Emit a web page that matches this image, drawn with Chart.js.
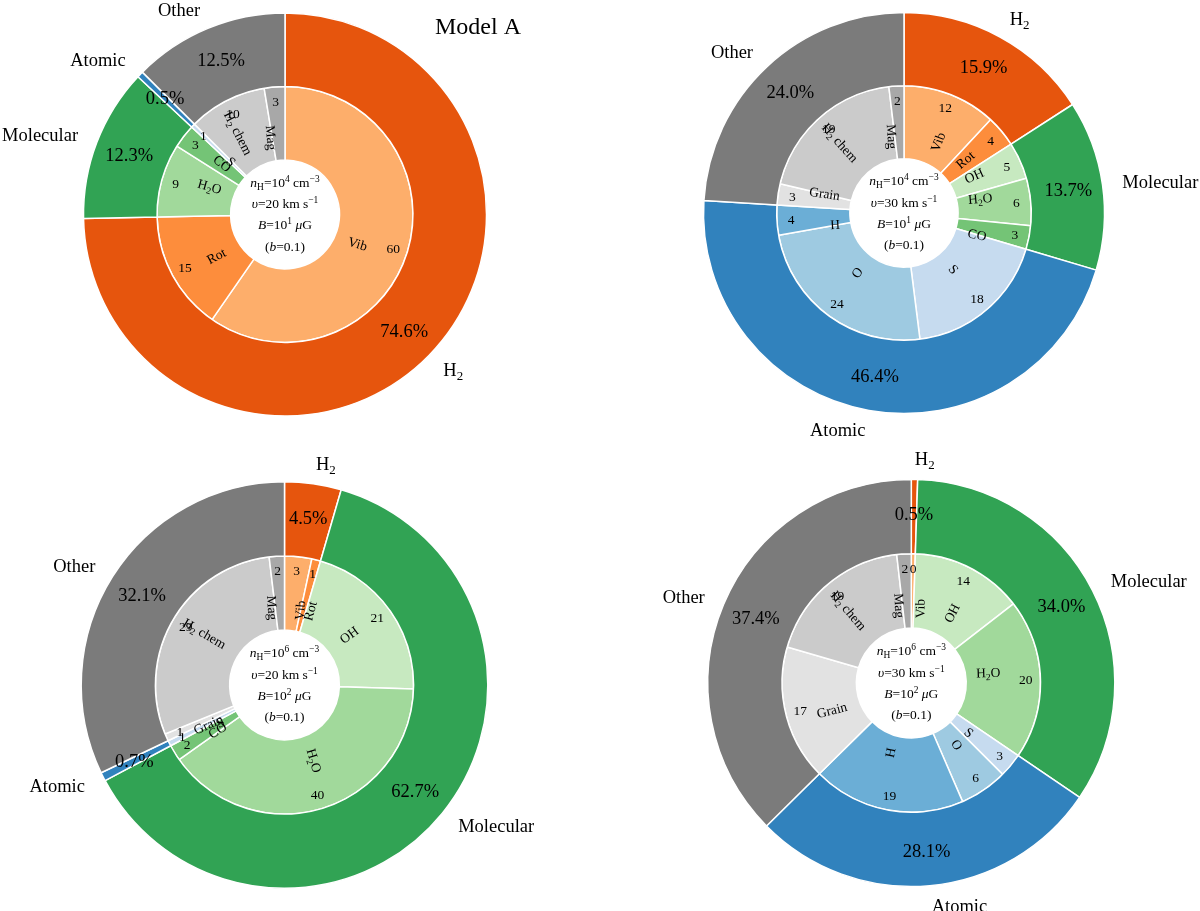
<!DOCTYPE html>
<html>
<head>
<meta charset="utf-8">
<script src="https://cdn.jsdelivr.net/npm/chart.js@4.4.1/dist/chart.umd.min.js"></script>
<style>
    html, body { margin: 0; padding: 0; background: #fff; }
    #wrap { position: relative; width: 1200px; height: 911px; overflow: hidden; }
    #wrap canvas { position: absolute; left: 0; top: 0; }
</style>
</head>
<body>
<div id="wrap">
    <canvas id="panelA" width="1200" height="911"></canvas>
    <canvas id="panelB" width="1200" height="911"></canvas>
    <canvas id="panelC" width="1200" height="911"></canvas>
    <canvas id="panelD" width="1200" height="911"></canvas>
</div>
<script>
// Outer ring: groups, same order in every panel (clockwise from 12 o'clock)
const outerNames = ['H_2', 'Molecular', 'Atomic', 'Other'];

// Panel A: nH=1e4, v=20, B=1e1
const outerA = [74.6, 12.3, 0.5, 12.5];
const innerNamesA = ['Vib', 'Rot', 'H_2O', 'CO', 'S', 'H_2 chem', 'Mag'];
const innerA = [59.6, 15.0, 9.3, 3.0, 0.5, 9.9, 2.6];
const innerNumsA = [60, 15, 9, 3, 1, 10, 3];
const centerA = ['$n$_H=10^{4} cm^{−3}', '$υ$=20 km s^{−1}', '$B$=10^{1} $μ$G', '($b$=0.1)'];

// Panel B: nH=1e4, v=30, B=1e1
const outerB = [15.9, 13.7, 46.4, 24.0];
const innerNamesB = ['Vib', 'Rot', 'OH', 'H_2O', 'CO', 'S', 'O', 'H', 'Grain', 'H_2 chem', 'Mag'];
const innerB = [11.9, 4.0, 4.7, 6.0, 3.0, 18.4, 24.2, 3.8, 2.7, 19.4, 1.9];
const innerNumsB = [12, 4, 5, 6, 3, 18, 24, 4, 3, 19, 2];
const centerB = ['$n$_H=10^{4} cm^{−3}', '$υ$=30 km s^{−1}', '$B$=10^{1} $μ$G', '($b$=0.1)'];

// Panel C: nH=1e6, v=20, B=1e2
const outerC = [4.5, 62.7, 0.7, 32.1];
const innerNamesC = ['Vib', 'Rot', 'OH', 'H_2O', 'CO', 'S', 'Grain', 'H_2 chem', 'Mag'];
const innerC = [3.4, 1.1, 21.0, 39.7, 2.0, 0.7, 0.9, 29.3, 1.9];
const innerNumsC = [3, 1, 21, 40, 2, 1, 1, 29, 2];
const centerC = ['$n$_H=10^{6} cm^{−3}', '$υ$=20 km s^{−1}', '$B$=10^{2} $μ$G', '($b$=0.1)'];

// Panel D: nH=1e6, v=30, B=1e2
const outerD = [0.5, 34.0, 28.1, 37.4];
const innerNamesD = ['Vib', 'OH', 'H_2O', 'S', 'O', 'H', 'Grain', 'H_2 chem', 'Mag'];
const innerD = [0.5, 14.0, 20.0, 3.0, 6.0, 19.1, 16.9, 18.7, 1.8];
const innerNumsD = [0, 14, 20, 3, 6, 19, 17, 19, 2];
const centerD = ['$n$_H=10^{6} cm^{−3}', '$υ$=30 km s^{−1}', '$B$=10^{2} $μ$G', '($b$=0.1)'];

const outerColors = ['#e6550d', '#31a354', '#3182bd', '#7b7b7b'];
const innerColors = {
    'Vib': '#fdae6b', 'Rot': '#fd8d3c',
    'OH': '#c7e9c0', 'H_2O': '#a1d99b', 'CO': '#74c476',
    'S': '#c6dbef', 'O': '#9ecae1', 'H': '#6baed6',
    'Grain': '#e2e2e2', 'H_2 chem': '#cbcbcb', 'Mag': '#a8a8a8'
};

const W = 1200, H = 911;
const FONT = '"Liberation Serif", "Times New Roman", serif';

// tiny markup: $..$ italic, _x subscript (one char), ^{..} superscript
function richSegs(str) {
    const segs = [];
    let italic = false, buf = '';
    const push = (t, mode) => { if (t) segs.push({ t, mode, italic }); };
    for (let i = 0; i < str.length; i++) {
        const c = str[i];
        if (c === '$') { push(buf, 'n'); buf = ''; italic = !italic; }
        else if (c === '_') { push(buf, 'n'); buf = ''; push(str[i + 1], 'sub'); i++; }
        else if (c === '^') {
            push(buf, 'n'); buf = '';
            const j = str.indexOf('}', i);
            push(str.slice(i + 2, j), 'sup');
            i = j;
        }
        else buf += c;
    }
    push(buf, 'n');
    return segs;
}

function segFont(seg, size) {
    const fs = seg.mode === 'n' ? size : size * 0.7;
    return (seg.italic ? 'italic ' : '') + fs + 'px ' + FONT;
}

function richWidth(ctx, str, size) {
    let w = 0;
    richSegs(str).forEach(seg => {
        ctx.font = segFont(seg, size);
        w += ctx.measureText(seg.t).width;
    });
    return w;
}

function drawRich(ctx, str, x, y, size, align) {
    const w = richWidth(ctx, str, size);
    let px = align === 'left' ? x : (align === 'right' ? x - w : x - w / 2);
    const base = y + size * 0.32;
    ctx.textAlign = 'left';
    ctx.textBaseline = 'alphabetic';
    richSegs(str).forEach(seg => {
        ctx.font = segFont(seg, size);
        const dy = seg.mode === 'sub' ? size * 0.22 : (seg.mode === 'sup' ? -size * 0.38 : 0);
        ctx.fillText(seg.t, px, base + dy);
        px += ctx.measureText(seg.t).width;
    });
}

// radial label, aligned like matplotlib's rotatelabels
function drawRadial(ctx, str, ax, ay, size, m) {
    const w = richWidth(ctx, str, size), h = size * 1.15;
    const c = Math.cos(m), s = Math.sin(m);
    let rot = -m;
    if (c <= 0) rot += Math.PI;
    const bw = Math.abs(w * Math.cos(rot)) + Math.abs(h * Math.sin(rot));
    const bh = Math.abs(w * Math.sin(rot)) + Math.abs(h * Math.cos(rot));
    const cx = ax + (c > 0 ? bw / 2 : -bw / 2);
    const cy = ay + (s > 0 ? bh / 2 : -bh / 2);
    ctx.save();
    ctx.translate(cx, cy);
    ctx.rotate(-rot);
    drawRich(ctx, str, 0, 0, size, 'center');
    ctx.restore();
}

const ringLabels = {
    id: 'ringLabels',
    afterDatasetsDraw(chart, args, opts) {
        const ctx = chart.ctx;
        ctx.save();
        ctx.fillStyle = '#000';

        const outer = chart.getDatasetMeta(0).data;
        const outerVals = chart.data.datasets[0].data;
        outer.forEach((arc, i) => {
            const m = (arc.startAngle + arc.endAngle) / 2;
            const c = Math.cos(m), s = Math.sin(m);
            const rp = arc.outerRadius * 0.828;
            drawRich(ctx, outerVals[i].toFixed(1) + '%', arc.x + c * rp, arc.y + s * rp, 18.5, 'center');
            const rn = arc.outerRadius * 1.1;
            drawRich(ctx, outerNames[i], arc.x + c * rn, arc.y + s * rn, 18.5, c > 0 ? 'left' : 'right');
        });

        const inner = chart.getDatasetMeta(1).data;
        inner.forEach((arc, i) => {
            const m = (arc.startAngle + arc.endAngle) / 2;
            const c = Math.cos(m), s = Math.sin(m);
            const rn = arc.outerRadius * 0.887;
            drawRich(ctx, String(opts.nums[i]), arc.x + c * rn, arc.y + s * rn, 13.5, 'center');
            const rl = arc.outerRadius * 0.5;
            drawRadial(ctx, opts.names[i], arc.x + c * rl, arc.y + s * rl, 13.5, m);
        });

        const x0 = outer[0].x, y0 = outer[0].y;
        opts.center.forEach((line, k) => {
            drawRich(ctx, line, x0, y0 + (k - 1.5) * 21.3, 13.5, 'center');
        });

        if (opts.title) {
            ctx.font = '24px ' + FONT;
            ctx.textAlign = 'left';
            ctx.textBaseline = 'alphabetic';
            ctx.fillText(opts.title, 435, 34);
        }
        ctx.restore();
    }
};

function centerPadding(cx, cy) {
    const ax = Math.min(cx, W - cx), ay = Math.min(cy, H - cy);
    return { left: cx - ax, right: W - cx - ax, top: cy - ay, bottom: H - cy - ay };
}

function makePanel(id, cx, cy, R, outerVals, innerVals, names, nums, center, title) {
    return new Chart(document.getElementById(id), {
        type: 'doughnut',
        data: {
            labels: names,
            datasets: [
                { data: outerVals, backgroundColor: outerColors, borderColor: '#fff', borderWidth: 1.5 },
                { data: innerVals, backgroundColor: names.map(n => innerColors[n]), borderColor: '#fff', borderWidth: 1.5 }
            ]
        },
        options: {
            responsive: false,
            animation: false,
            radius: R,
            cutout: '27%',
            layout: { padding: centerPadding(cx, cy) },
            plugins: {
                legend: { display: false },
                tooltip: { enabled: false },
                ringLabels: { names: names, nums: nums, center: center, title: title }
            }
        },
        plugins: [ringLabels]
    });
}

makePanel('panelA', 285, 214.5, 201.5, outerA, innerA, innerNamesA, innerNumsA, centerA, 'Model A');
makePanel('panelB', 904, 213, 200.5, outerB, innerB, innerNamesB, innerNumsB, centerB, null);
makePanel('panelC', 284.5, 685, 203.3, outerC, innerC, innerNamesC, innerNumsC, centerC, null);
makePanel('panelD', 911.3, 683, 203.5, outerD, innerD, innerNamesD, innerNumsD, centerD, null);
</script>
</body>
</html>
